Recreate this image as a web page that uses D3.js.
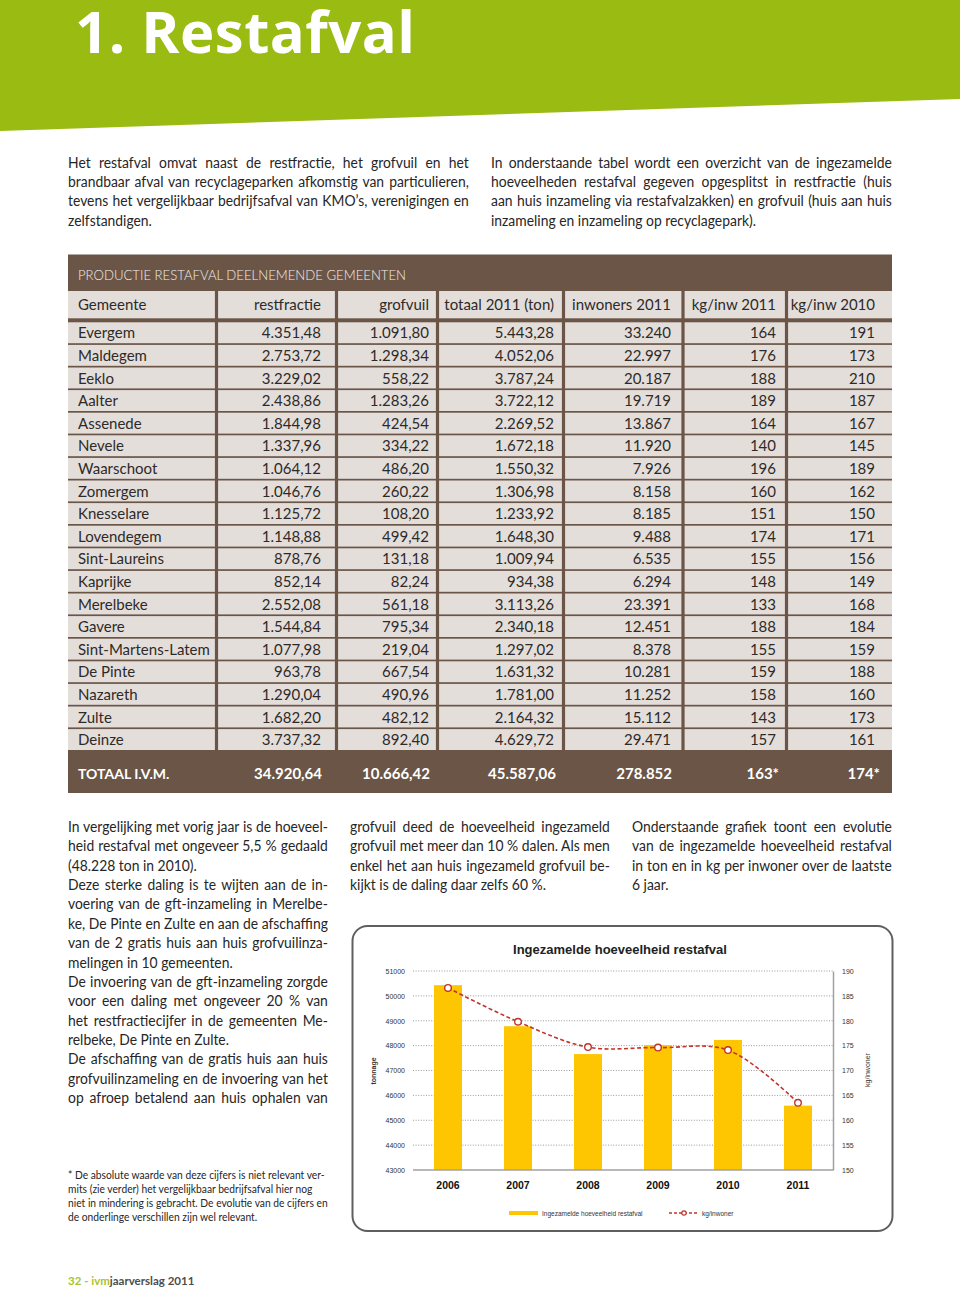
<!DOCTYPE html>
<html><head><meta charset="utf-8">
<script src="https://cdn.jsdelivr.net/npm/d3@7"></script>
<style>
html,body{margin:0;padding:0;background:#fff;}
svg{display:block;}
.body{font-family:Lato,"Open Sans",sans-serif;font-size:15px;fill:#262626;}
.foot{font-family:Lato,"Open Sans",sans-serif;font-size:10.5px;fill:#262626;}
.tbl{font-family:Lato,"Open Sans",sans-serif;font-size:15px;}
.ch{font-family:"Liberation Sans",Arial,sans-serif;}
</style></head>
<body>
<svg id="page" width="960" height="1289"></svg>
<script>
// ---------------- DATA ----------------
const pageTitle = "1. Restafval";
const introLeft = [[
  "Het restafval omvat naast de restfractie, het grofvuil en het",
  "brandbaar afval van recyclageparken afkomstig van particulieren,",
  "tevens het vergelijkbaar bedrijfsafval van KMO’s, verenigingen en",
  "zelfstandigen."]];
const introRight = [[
  "In onderstaande tabel wordt een overzicht van de ingezamelde",
  "hoeveelheden restafval gegeven opgesplitst in restfractie (huis",
  "aan huis inzameling via restafvalzakken) en grofvuil (huis aan huis",
  "inzameling en inzameling op recyclagepark)."]];
const textCol1 = [
  ["In vergelijking met vorig jaar is de hoeveel-",
   "heid restafval met ongeveer 5,5 % gedaald",
   "(48.228 ton in 2010)."],
  ["Deze sterke daling is te wijten aan de in-",
   "voering van de gft-inzameling in Merelbe-",
   "ke, De Pinte en Zulte en aan de afschaffing",
   "van de 2 gratis huis aan huis grofvuilinza-",
   "melingen in 10 gemeenten."],
  ["De invoering van de gft-inzameling zorgde",
   "voor een daling met ongeveer 20 % van",
   "het restfractiecijfer in de gemeenten Me-",
   "relbeke, De Pinte en Zulte."],
  ["De afschaffing van de gratis huis aan huis",
   "grofvuilinzameling en de invoering van het",
   "op afroep betalend aan huis ophalen van"]
];
const col1Continues = true; // last paragraph runs on, so its last line is justified
const textCol2 = [[
  "grofvuil deed de hoeveelheid ingezameld",
  "grofvuil met meer dan 10 % dalen. Als men",
  "enkel het aan huis ingezameld grofvuil be-",
  "kijkt is de daling daar zelfs 60 %."]];
const textCol3 = [[
  "Onderstaande grafiek toont een evolutie",
  "van de ingezamelde hoeveelheid restafval",
  "in ton en in kg per inwoner over de laatste",
  "6 jaar."]];
const footnote = [
  "* De absolute waarde van deze cijfers is niet relevant ver-",
  "mits (zie verder) het vergelijkbaar bedrijfsafval hier nog",
  "niet in mindering is gebracht. De evolutie van de cijfers en",
  "de onderlinge verschillen zijn wel relevant."];
const footerNum = "32 - ivm";
const footerRest = "jaarverslag 2011";

const tableTitle = "PRODUCTIE RESTAFVAL DEELNEMENDE GEMEENTEN";
const columns = ["Gemeente","restfractie","grofvuil","totaal 2011 (ton)","inwoners 2011","kg/inw 2011","kg/inw 2010"];
const gemeenten = ["Evergem","Maldegem","Eeklo","Aalter","Assenede","Nevele","Waarschoot","Zomergem","Knesselare","Lovendegem","Sint-Laureins","Kaprijke","Merelbeke","Gavere","Sint-Martens-Latem","De Pinte","Nazareth","Zulte","Deinze"];
const restfractie = [4351.48,2753.72,3229.02,2438.86,1844.98,1337.96,1064.12,1046.76,1125.72,1148.88,878.76,852.14,2552.08,1544.84,1077.98,963.78,1290.04,1682.20,3737.32];
const grofvuil = [1091.80,1298.34,558.22,1283.26,424.54,334.22,486.20,260.22,108.20,499.42,131.18,82.24,561.18,795.34,219.04,667.54,490.96,482.12,892.40];
const totaal2011 = [5443.28,4052.06,3787.24,3722.12,2269.52,1672.18,1550.32,1306.98,1233.92,1648.30,1009.94,934.38,3113.26,2340.18,1297.02,1631.32,1781.00,2164.32,4629.72];
const inwoners2011 = [33240,22997,20187,19719,13867,11920,7926,8158,8185,9488,6535,6294,23391,12451,8378,10281,11252,15112,29471];
const kgInw2011 = [164,176,188,189,164,140,196,160,151,174,155,148,133,188,155,159,158,143,157];
const kgInw2010 = [191,173,210,187,167,145,189,162,150,171,156,149,168,184,159,188,160,173,161];
const totaalLabel = "TOTAAL I.V.M.";
const totaalTon = [34920.64, 10666.42, 45587.06];
const totaalInwoners = 278852;
const totaalKg = [163, 174];
const totaalKgNote = "*";

const chartTitle = "Ingezamelde hoeveelheid restafval";
const years = ["2006","2007","2008","2009","2010","2011"];
const tonnage = [50430, 48780, 47660, 48020, 48228, 45587];
const kgPerInwoner = [186.6, 179.8, 174.7, 174.6, 174.1, 163.5];
const leftTicks = [43000,44000,45000,46000,47000,48000,49000,50000,51000];
const rightTicks = [150,155,160,165,170,175,180,185,190];
const leftAxisTitle = "tonnage";
const rightAxisTitle = "kg/inwoner";
const legendBar = "Ingezamelde hoeveelheid restafval";
const legendLine = "kg/inwoner";

// ---------------- PAGE ----------------
const svg = d3.select("#page");
svg.append("rect").attr("width",960).attr("height",1289).attr("fill","#fff");

// green header band
svg.append("path").attr("d","M0,0H960V99L0,131Z").attr("fill","#9abb12");
const tt = svg.append("text").attr("x",75).attr("y",53)
  .style("font-family","'Open Sans',Lato,sans-serif").style("font-weight",700)
  .style("font-size","58px").style("fill","#fff").text(pageTitle);
{
  const w = tt.node().getComputedTextLength();
  if (Math.abs(w-340) > 3) tt.attr("textLength",340).attr("lengthAdjust", w>340 ? "spacingAndGlyphs":"spacing");
}

// ---------- justified body text ----------
const lines = [];
function addBlock(paras, x, y0, width, lh, continues) {
  let y = y0;
  paras.forEach((p, pi) => {
    p.forEach((s, li) => {
      const last = li === p.length-1;
      const justify = !last || (continues && pi === paras.length-1);
      const t = svg.append("text").attr("class","body").text(s);
      lines.push({t, x, y, width, justify, s});
      y += lh;
    });
  });
}
addBlock(introLeft, 68, 167.5, 401, 19.4, false);
addBlock(introRight, 491, 167.5, 401, 19.4, false);
addBlock(textCol1, 68, 832, 260, 19.36, col1Continues);
addBlock(textCol2, 350, 832, 260, 19.36, false);
addBlock(textCol3, 632, 832, 260, 19.36, false);

lines.forEach(l => l.w = l.t.node().getComputedTextLength());
let k = d3.min(lines.filter(l=>l.justify), l => l.width/l.w);
k = Math.max(0.78, Math.min(1, k));
lines.forEach(l => {
  l.t.attr("transform", `translate(${l.x},${l.y}) scale(${k},1)`);
  const target = l.width/k;
  if (l.justify) {
    const n = (l.s.match(/ /g)||[]).length;
    if (n > 0) {
      const ws = (target - l.w)/n;
      l.t.style("word-spacing", ws+"px");
      const w2 = l.t.node().getComputedTextLength();
      if (Math.abs(w2 - target) > 1.5) {
        l.t.style("word-spacing", null).attr("textLength", target).attr("lengthAdjust","spacing");
      }
    }
  } else if (l.w > target) {
    l.t.attr("textLength", target).attr("lengthAdjust","spacingAndGlyphs");
  }
});

// footnote
const fl = footnote.map((s,i) => svg.append("text").attr("class","foot").text(s));
const fw = fl.map(t => t.node().getComputedTextLength());
const kf = Math.min(1, 260/d3.max(fw));
fl.forEach((t,i) => t.attr("transform", `translate(68,${1179+i*14}) scale(${kf},1)`));

// footer
const ft = svg.append("text").attr("x",68).attr("y",1285)
  .style("font-family","Lato,'Open Sans',sans-serif").style("font-size","11.5px").style("font-weight",700);
ft.append("tspan").style("fill","#a9c52a").text(footerNum);
ft.append("tspan").style("fill","#4d4d4d").text(footerRest);

// ---------------- TABLE ----------------
const nl = d3.formatLocale({decimal:",", thousands:".", grouping:[3], currency:["€",""]});
const f2 = nl.format(",.2f"), f0 = nl.format(",d");
const brown = "#6a5546", light = "#e4dedb", ink = "#2e2a27";
const colEdges = [68, 216.5, 336.5, 437.5, 563.5, 683, 786.5, 892];
const textX = [78, 321, 429, 554, 671, 776, 875];
const tbl = svg.append("g");
tbl.append("rect").attr("x",68).attr("y",254.5).attr("width",824).attr("height",538.5).attr("fill",brown);
tbl.append("text").attr("x",78).attr("y",280).attr("class","tbl")
  .style("font-size","14.5px").style("font-weight",300).style("fill","#f3eee9").text(tableTitle)
  .each(function(){ const w=this.getComputedTextLength(); if (Math.abs(w-328)>4) d3.select(this).attr("textLength",328).attr("lengthAdjust","spacingAndGlyphs"); });

function cellRects(y, h) {
  d3.range(7).forEach(j => {
    const x0 = colEdges[j] + (j>0 ? 1.6 : 0);
    const x1 = colEdges[j+1] - (j<6 ? 1.6 : 0);
    tbl.append("rect").attr("x",x0).attr("y",y).attr("width",x1-x0).attr("height",h).attr("fill",light);
  });
}
// header row
cellRects(291, 27.3);
columns.forEach((c,j) => {
  tbl.append("text").attr("class","tbl").style("fill",ink).attr("x",textX[j]).attr("y",309.5)
    .attr("text-anchor", j===0?"start":"end").text(c);
});
// data rows
const rowY0 = 322.3, pitch = 22.6;
const rows = gemeenten.map((g,i) => [g, f2(restfractie[i]), f2(grofvuil[i]), f2(totaal2011[i]), f0(inwoners2011[i]), String(kgInw2011[i]), String(kgInw2010[i])]);
rows.forEach((r,i) => {
  const y = rowY0 + i*pitch;
  cellRects(y, pitch-1.7);
  r.forEach((v,j) => {
    tbl.append("text").attr("class","tbl").style("fill",ink).attr("x",textX[j]).attr("y",y+16)
      .attr("text-anchor", j===0?"start":"end").text(v);
  });
});
// totals row
const totRow = [totaalLabel, f2(totaalTon[0]), f2(totaalTon[1]), f2(totaalTon[2]), f0(totaalInwoners), totaalKg[0]+totaalKgNote, totaalKg[1]+totaalKgNote];
const totX = [78, 322, 430, 556, 672, 779, 880];
totRow.forEach((v,j) => {
  tbl.append("text").attr("class","tbl").attr("x",totX[j]).attr("y",778.5)
    .attr("text-anchor", j===0?"start":"end").style("fill","#fff")
    .style("font-weight",700).style("font-size", j===0?"14px":"15px").text(v);
});

// ---------------- CHART ----------------
const ch = svg.append("g").attr("class","ch");
ch.append("rect").attr("x",352.5).attr("y",926).attr("width",540).attr("height",305)
  .attr("rx",15).attr("fill","#fff").attr("stroke","#5f5f5f").attr("stroke-width",2);
ch.append("text").attr("x",620).attr("y",954).attr("text-anchor","middle")
  .style("font-size","13px").style("font-weight",700).attr("fill","#222").text(chartTitle);

const x = d3.scaleBand().domain(years).range([413, 833]).paddingInner(0.6).paddingOuter(0.3);
const yL = d3.scaleLinear().domain([43000, 51000]).range([1170, 971]);
const yR = d3.scaleLinear().domain([150, 190]).range([1170, 971]);

// gridlines
ch.append("g").selectAll("line").data(leftTicks.slice(1)).join("line")
  .attr("x1",413).attr("x2",833).attr("y1",d=>yL(d)).attr("y2",d=>yL(d))
  .attr("stroke","#9a9a9a").attr("stroke-width",1).attr("stroke-dasharray","1,1.6");

// bars
ch.append("g").selectAll("rect").data(years).join("rect")
  .attr("x",d=>x(d)).attr("width",x.bandwidth())
  .attr("y",(d,i)=>yL(tonnage[i])).attr("height",(d,i)=>yL(43000)-yL(tonnage[i]))
  .attr("fill","#fdc600");

// axes
const axL = ch.append("g").attr("transform","translate(413,0)")
  .call(d3.axisLeft(yL).tickValues(leftTicks).tickSize(0).tickPadding(8).tickFormat(d3.format("d")));
axL.select(".domain").remove();
axL.selectAll("text").style("font-size","7px").attr("fill","#333").style("font-family","'Liberation Sans',Arial,sans-serif");
const axR = ch.append("g").attr("transform","translate(833,0)")
  .call(d3.axisRight(yR).tickValues(rightTicks).tickSize(0).tickPadding(9).tickFormat(d3.format("d")));
axR.select(".domain").attr("stroke","#a0a0a0").attr("stroke-width",1.5);
axR.selectAll("text").style("font-size","7px").attr("fill","#333").style("font-family","'Liberation Sans',Arial,sans-serif");
const axB = ch.append("g").attr("transform","translate(0,1170)")
  .call(d3.axisBottom(x).tickSize(0).tickPadding(12));
axB.select(".domain").attr("stroke","#a0a0a0").attr("stroke-width",1.5).attr("d","M413,0H833");
axB.selectAll("text").style("font-size","10.5px").style("font-weight",700).attr("fill","#111")
  .style("font-family","'Liberation Sans',Arial,sans-serif");

ch.append("text").attr("transform","translate(376,1071) rotate(-90)").attr("text-anchor","middle")
  .style("font-size","7px").style("font-weight",700).attr("fill","#333").text(leftAxisTitle);
ch.append("text").attr("transform","translate(870,1070) rotate(-90)").attr("text-anchor","middle")
  .style("font-size","7px").attr("fill","#333").text(rightAxisTitle);

// line
const red = "#c0342c";
const pts = years.map((y,i)=>[x(y)+x.bandwidth()/2, yR(kgPerInwoner[i])]);
ch.append("path").attr("d", d3.line().curve(d3.curveCatmullRom.alpha(0.5))(pts))
  .attr("fill","none").attr("stroke",red).attr("stroke-width",1.6).attr("stroke-dasharray","4,2.5");
ch.append("g").selectAll("circle").data(pts).join("circle")
  .attr("cx",d=>d[0]).attr("cy",d=>d[1]).attr("r",3.3)
  .attr("fill","#fff").attr("stroke",red).attr("stroke-width",1.4);

// legend
ch.append("rect").attr("x",509).attr("y",1211).attr("width",29).attr("height",4).attr("fill","#fdc600");
ch.append("text").attr("x",542).attr("y",1215.5).style("font-size","6.5px").attr("fill","#333").text(legendBar);
ch.append("line").attr("x1",669).attr("x2",699).attr("y1",1213).attr("y2",1213)
  .attr("stroke",red).attr("stroke-width",1.4).attr("stroke-dasharray","3,2");
ch.append("circle").attr("cx",684).attr("cy",1213).attr("r",2.2).attr("fill","#fff").attr("stroke",red).attr("stroke-width",1.2);
ch.append("text").attr("x",702).attr("y",1215.5).style("font-size","6.5px").attr("fill","#333").text(legendLine);
</script>
</body></html>
